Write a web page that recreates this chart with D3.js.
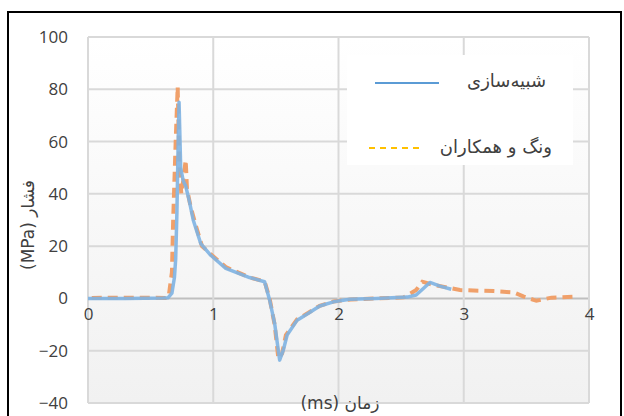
<!DOCTYPE html>
<html>
<head>
<meta charset="utf-8">
<script src="https://cdn.jsdelivr.net/npm/d3@7"></script>
<style>
  body { margin: 0; background: #fff; }
  svg text { fill: #404040; }
</style>
</head>
<body>
<script>
w = 624;
h = 416;

// simulation (blue)
simT = [0, 0.3, 0.6, 0.64, 0.67, 0.69, 0.70, 0.71, 0.72, 0.727, 0.74, 0.76, 0.78, 0.81, 0.84, 0.90, 0.98, 1.10, 1.29, 1.41, 1.45, 1.49, 1.53, 1.56, 1.59, 1.67, 1.76, 1.85, 1.96, 2.09, 2.3, 2.55, 2.62, 2.73, 2.81, 2.90];
simV = [0, 0, 0.2, 0.3, 2, 8, 15, 33, 60, 75, 50, 45, 43, 37, 30, 21, 16.5, 11.5, 8, 6.4, -0.6, -9.5, -23.6, -19.7, -14, -8.3, -5.7, -2.9, -1.3, -0.3, 0, 0.5, 1.3, 6.1, 4.7, 3.5];

// Wong et al. (orange dashed)
wongT = [0.03, 0.3, 0.62, 0.645, 0.67, 0.68, 0.70, 0.716, 0.72, 0.73, 0.745, 0.76, 0.78, 0.79, 0.82, 0.86, 0.91, 0.99, 1.1, 1.29, 1.41, 1.45, 1.49, 1.52, 1.55, 1.58, 1.67, 1.76, 1.85, 1.96, 2.1, 2.3, 2.52, 2.62, 2.67, 2.74, 2.97, 3.24, 3.40, 3.48, 3.58, 3.70, 3.90];
wongV = [0.2, 0.3, 0.2, 1, 10, 30, 60, 81, 72, 50, 40, 45, 53, 42, 35, 28, 20, 16.5, 12, 8, 6.5, 0, -10, -23, -21, -14, -8, -5.5, -2.8, -1.2, -0.4, 0, 0.4, 3.2, 6.4, 5.4, 3.2, 2.8, 2.3, 0.7, -0.9, 0.3, 0.7];

xTicks = [0, 1, 2, 3, 4];
yTicks = [-40, -20, 0, 20, 40, 60, 80, 100];

seriesNames = ['شبیه‌سازی', 'ونگ و همکاران'];
xLabel = '(ms) زمان';
yLabel = '(MPa) فشار';

let x = d3.scaleLinear().domain([0, 4]).range([88, 589]);
let y = d3.scaleLinear().domain([-40, 100]).range([403, 37]);

svg = d3.select('body')
  .append('svg')
  .attr('width', w)
  .attr('height', h);

let defs = svg.append('defs');
let grad = defs.append('linearGradient')
  .attr('id', 'bg')
  .attr('x1', 0).attr('y1', 0).attr('x2', 0).attr('y2', 1);
grad.append('stop').attr('offset', '0%').attr('stop-color', '#ffffff');
grad.append('stop').attr('offset', '100%').attr('stop-color', '#f1f1f1');

// outer frame
svg.append('rect')
  .attr('x', 8).attr('y', 12)
  .attr('width', 613).attr('height', 420)
  .attr('fill', '#fff')
  .attr('stroke', '#000')
  .attr('stroke-width', 2);

// plot background
svg.append('rect')
  .attr('x', x(0)).attr('y', y(100))
  .attr('width', x(4) - x(0)).attr('height', y(-40) - y(100))
  .attr('fill', 'url(#bg)');

// gridlines
svg.append('g')
  .selectAll('line')
  .data(yTicks)
  .enter()
  .append('line')
  .attr('x1', x(0)).attr('x2', x(4))
  .attr('y1', d => y(d)).attr('y2', d => y(d))
  .attr('stroke', d => d === 0 ? '#bfbfbf' : '#d9d9d9')
  .attr('stroke-width', 2);

svg.append('g')
  .selectAll('line')
  .data(xTicks)
  .enter()
  .append('line')
  .attr('x1', d => x(d)).attr('x2', d => x(d))
  .attr('y1', y(100)).attr('y2', y(-40))
  .attr('stroke', '#d9d9d9')
  .attr('stroke-width', 2);

// axes (labels only)
let yAxis = d3.axisLeft(y).tickValues(yTicks).tickSize(0).tickPadding(20).tickFormat(d3.format('d'));
let gy = svg.append('g')
  .attr('transform', `translate(${x(0)}, 0)`)
  .call(yAxis);

let xAxis = d3.axisBottom(x).tickValues(xTicks).tickSize(0).tickPadding(10).tickFormat(d3.format('d'));
let gx = svg.append('g')
  .attr('transform', `translate(0, ${y(0)})`)
  .call(xAxis);

[gx, gy].forEach(g => {
  g.select('.domain').remove();
  g.selectAll('text')
    .attr('font-family', 'Open Sans, sans-serif')
    .attr('font-size', 17)
    .attr('fill', '#404040');
});

// legend box
svg.append('rect')
  .attr('x', 347).attr('y', 55)
  .attr('width', 226).attr('height', 110)
  .attr('fill', '#fff');

let line = d3.line()
  .x(d => x(d[0]))
  .y(d => y(d[1]));

svg.append('path')
  .datum(d3.zip(wongT, wongV))
  .attr('d', line)
  .attr('fill', 'none')
  .attr('stroke', '#f0a06a')
  .attr('stroke-width', 4)
  .attr('stroke-dasharray', '10,6');

svg.append('path')
  .datum(d3.zip(simT, simV))
  .attr('d', line)
  .attr('fill', 'none')
  .attr('stroke', '#7eb2e2')
  .attr('stroke-width', 3.5)
  .attr('stroke-linejoin', 'round')
  .attr('opacity', 0.9);

// legend
svg.append('line')
  .attr('x1', 375).attr('x2', 439)
  .attr('y1', 83).attr('y2', 83)
  .attr('stroke', '#5b9bd5')
  .attr('stroke-width', 2);
svg.append('line')
  .attr('x1', 369).attr('x2', 420)
  .attr('y1', 148).attr('y2', 148)
  .attr('stroke', '#ffc000')
  .attr('stroke-width', 2)
  .attr('stroke-dasharray', '6,5');

svg.append('text')
  .attr('x', 546).attr('y', 87)
  .attr('text-anchor', 'end')
  .attr('font-family', 'DejaVu Sans, sans-serif')
  .attr('font-size', 18)
  .attr('fill', '#262626')
  .text(seriesNames[0]);
svg.append('text')
  .attr('x', 552).attr('y', 153)
  .attr('text-anchor', 'end')
  .attr('font-family', 'DejaVu Sans, sans-serif')
  .attr('font-size', 18)
  .attr('fill', '#262626')
  .text(seriesNames[1]);

// axis titles
svg.append('text')
  .attr('x', 340).attr('y', 409)
  .attr('text-anchor', 'middle')
  .attr('font-family', 'DejaVu Sans, sans-serif')
  .attr('font-size', 17)
  .attr('fill', '#262626')
  .text(xLabel);

svg.append('text')
  .attr('transform', 'translate(34, 225) rotate(-90)')
  .attr('text-anchor', 'middle')
  .attr('font-family', 'DejaVu Sans, sans-serif')
  .attr('font-size', 17)
  .attr('fill', '#262626')
  .text(yLabel);
</script>
</body>
</html>
